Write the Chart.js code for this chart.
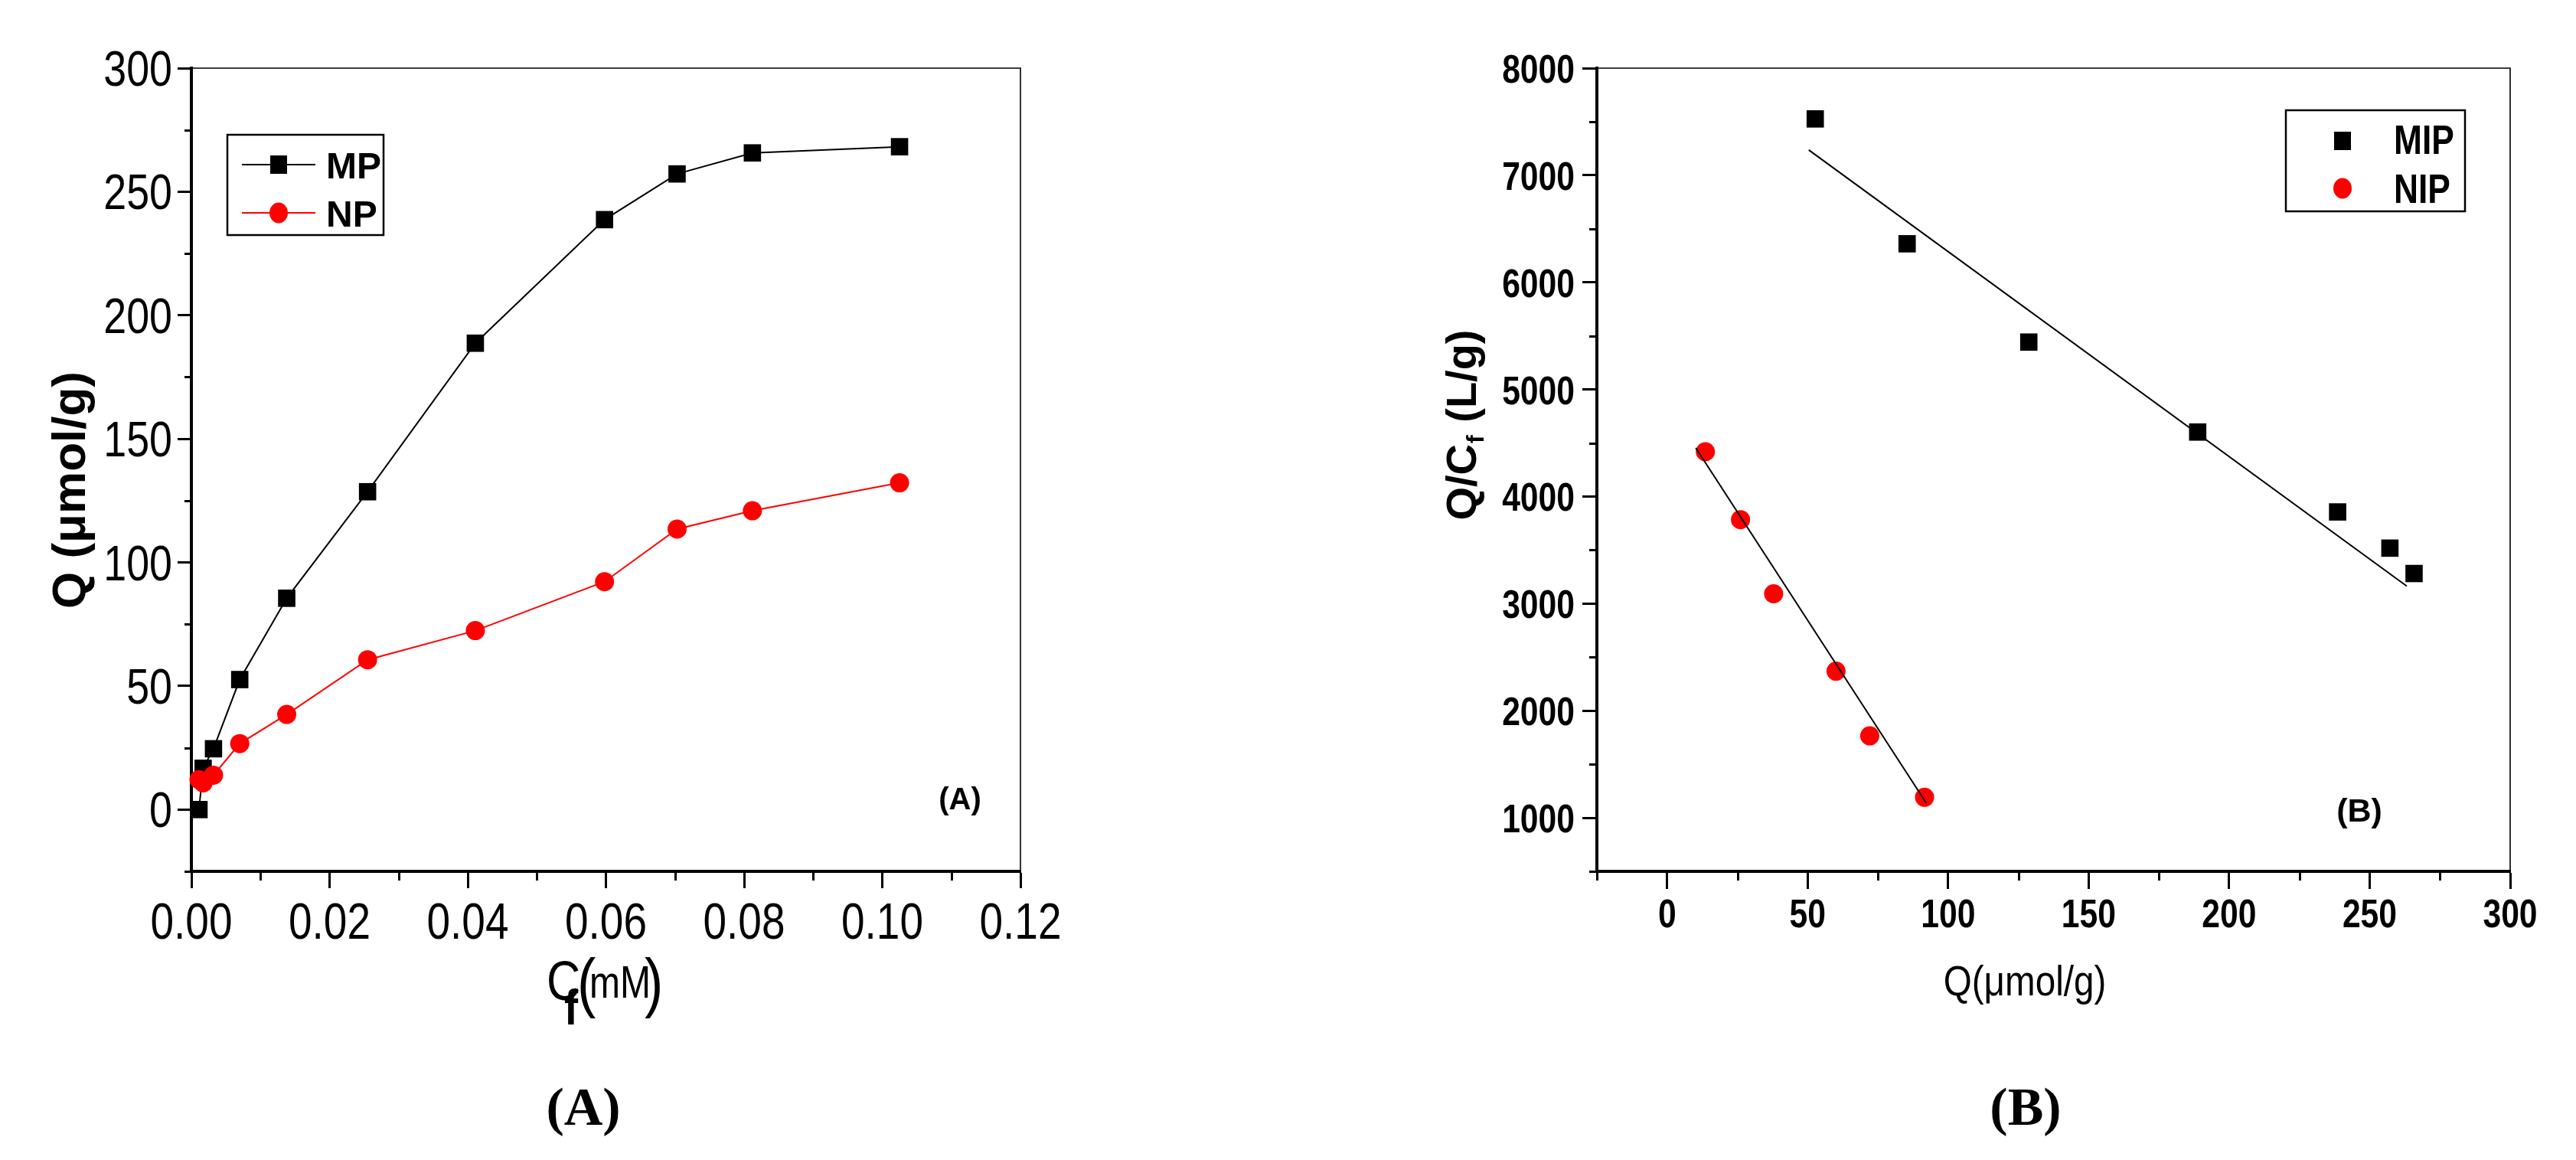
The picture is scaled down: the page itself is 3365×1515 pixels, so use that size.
<!DOCTYPE html>
<html><head><meta charset="utf-8">
<script src="https://cdn.jsdelivr.net/npm/chart.js@4.4.0/dist/chart.umd.min.js"></script>
<style>
html,body{margin:0;padding:0;background:#fff;}
body{width:3365px;height:1515px;position:relative;overflow:hidden;}
canvas{position:absolute;top:0;}
.cap{position:absolute;font-family:'Liberation Serif','Times New Roman',serif;font-weight:bold;font-size:70px;line-height:1;color:#000;transform:translateX(-50%);top:1411px;white-space:nowrap;}
</style></head><body>
<canvas id="cA" width="1600" height="1400" style="left:0;width:1600px;height:1400px"></canvas>
<canvas id="cB" width="1665" height="1400" style="left:1700px;width:1665px;height:1400px"></canvas>
<div class="cap" style="left:762px">(A)</div>
<div class="cap" style="left:2646px">(B)</div>
<script>
// ---------- Data: panel A (adsorption isotherm) ----------
const cfA = [0.0011, 0.0017, 0.0032, 0.0070, 0.0138, 0.0255, 0.0411, 0.0598, 0.0703, 0.0812, 0.1025];
const qMP = [0, 16.7, 24.6, 52.6, 85.5, 128.6, 188.7, 238.7, 257.2, 265.7, 268.2];
const qNP = [12.1, 10.8, 13.9, 26.7, 38.5, 60.6, 72.4, 92.2, 113.5, 120.9, 132.2];
const xTickValuesA = [0, 0.02, 0.04, 0.06, 0.08, 0.10, 0.12];
const xTickLabelsA = ['0.00', '0.02', '0.04', '0.06', '0.08', '0.10', '0.12'];
const yTickValuesA = [0, 50, 100, 150, 200, 250, 300];
const yTickLabelsA = ['0', '50', '100', '150', '200', '250', '300'];

// ---------- Data: panel B (Scatchard plot) ----------
const qMIP = [52.7, 85.4, 128.7, 188.8, 238.6, 257.2, 265.8];
const ratioMIP = [7526, 6360, 5442, 4602, 3856, 3518, 3281];
const qNIP = [13.6, 26.1, 37.9, 60.1, 72.1, 91.6];
const ratioNIP = [4418, 3784, 3092, 2369, 1765, 1191];
const fitMIPx = [50.4, 263.2];
const fitMIPy = [7236, 3163];
const fitNIPx = [10.2, 92.2];
const fitNIPy = [4454, 1138];
const xTickValuesB = [0, 50, 100, 150, 200, 250, 300];
const xTickLabelsB = ['0', '50', '100', '150', '200', '250', '300'];
const yTickValuesB = [1000, 2000, 3000, 4000, 5000, 6000, 7000, 8000];
const yTickLabelsB = ['1000', '2000', '3000', '4000', '5000', '6000', '7000', '8000'];

const SANS = "'Liberation Sans',Arial,sans-serif";
const NARROW_SX = 0.82; // horizontal compression emulating Arial Narrow

function pts(xs, ys) { return xs.map((x, i) => ({ x: x, y: ys[i] })); }
function minorOf(majors, min, max) {
  const step = majors[1] - majors[0];
  const out = [];
  const cand = [majors[0] - step / 2].concat(majors.map(v => v + step / 2));
  cand.forEach(v => { if (v >= min - 1e-9 && v <= max + 1e-9) out.push(v); });
  return out;
}
function textSX(ctx, text, x, y, font, align, sx) {
  ctx.save();
  ctx.translate(x, y);
  ctx.scale(sx, 1);
  ctx.font = font;
  ctx.textAlign = align;
  ctx.textBaseline = 'alphabetic';
  ctx.fillStyle = '#000';
  ctx.fillText(text, 0, 0);
  ctx.restore();
}

function frameMinorLabels(chart, o) {
  const ctx = chart.ctx, a = chart.chartArea;
  const xs = chart.scales.x, ys = chart.scales.y;
  ctx.save();
  ctx.strokeStyle = '#000';
  ctx.lineWidth = 1.6;
  ctx.beginPath();
  ctx.moveTo(a.left, a.top); ctx.lineTo(a.right, a.top); ctx.lineTo(a.right, a.bottom + 1);
  ctx.stroke();
  ctx.lineWidth = 3;
  ctx.beginPath();
  minorOf(o.xMaj, xs.min, xs.max).forEach(v => {
    const p = Math.round(xs.getPixelForValue(v)) + 0.5;
    ctx.moveTo(p, a.bottom); ctx.lineTo(p, a.bottom + o.xMinLen);
  });
  minorOf(o.yMaj, ys.min, ys.max).forEach(v => {
    const p = Math.round(ys.getPixelForValue(v)) + 0.5;
    ctx.moveTo(a.left - o.yMinLen, p); ctx.lineTo(a.left, p);
  });
  ctx.stroke();
  ctx.restore();
  // tick labels placed from the scales' own ticks
  xs.ticks.forEach(t => {
    const i = o.xMaj.findIndex(v => Math.abs(v - t.value) < 1e-9);
    if (i < 0) return;
    textSX(ctx, o.xLab[i], xs.getPixelForValue(t.value), o.xBase, o.xFont, 'center', o.xSX);
  });
  ys.ticks.forEach(t => {
    const i = o.yMaj.findIndex(v => Math.abs(v - t.value) < 1e-9);
    if (i < 0) return;
    textSX(ctx, o.yLab[i], o.yRight, ys.getPixelForValue(t.value) + o.yShift, o.yFont, 'right', o.ySX);
  });
}

function drawLegend(ctx, L) {
  ctx.save();
  ctx.strokeStyle = '#000';
  ctx.lineWidth = 2.5;
  ctx.strokeRect(L.box[0], L.box[1], L.box[2] - L.box[0], L.box[3] - L.box[1]);
  L.items.forEach(it => {
    if (it.line) {
      ctx.strokeStyle = it.color; ctx.lineWidth = 2;
      ctx.beginPath(); ctx.moveTo(L.lineX[0], it.y); ctx.lineTo(L.lineX[1], it.y); ctx.stroke();
    }
    ctx.fillStyle = it.color;
    if (it.shape === 'rect') {
      ctx.fillRect(L.mx - 11, it.y - 12, 22, 24);
    } else {
      ctx.beginPath(); ctx.ellipse(L.mx, it.y, 12, 13.5, 0, 0, Math.PI * 2); ctx.fill();
    }
    textSX(ctx, it.label, L.tx, it.base, L.font, 'left', L.sx);
  });
  ctx.restore();
}

// ---------- Chart A ----------
const decorA = {
  id: 'decorA',
  afterDraw(chart) {
    const ctx = chart.ctx;
    frameMinorLabels(chart, {
      xMaj: xTickValuesA, yMaj: yTickValuesA, xLab: xTickLabelsA, yLab: yTickLabelsA,
      xMinLen: 12, yMinLen: 9,
      xFont: '67px ' + SANS, xBase: 1226, xSX: NARROW_SX,
      yFont: '64px ' + SANS, yRight: 225, yShift: 23, ySX: 0.84
    });
    drawLegend(ctx, {
      box: [297, 176, 501, 307], lineX: [316, 412], mx: 364, tx: 426, sx: 1,
      font: 'bold 48px ' + SANS,
      items: [
        { label: 'MP', shape: 'rect', color: '#000', y: 215, base: 233, line: true },
        { label: 'NP', shape: 'circle', color: '#ff0000', y: 278, base: 296, line: true }
      ]
    });
    ctx.save();
    ctx.fillStyle = '#000';
    ctx.font = 'bold 40px ' + SANS;
    ctx.textAlign = 'center'; ctx.textBaseline = 'middle';
    ctx.fillText('(A)', 1254, 1046);
    // y title
    ctx.save();
    ctx.translate(111, 640);
    ctx.rotate(-Math.PI / 2);
    ctx.font = 'bold 62px ' + SANS;
    ctx.textAlign = 'center'; ctx.textBaseline = 'alphabetic';
    ctx.fillText('Q (\u03bcmol/g)', 0, 0);
    ctx.restore();
    ctx.restore();
    // x title  C_f(mM)
    textSX(ctx, 'C', 714, 1306, '72px ' + SANS, 'left', 0.85);
    textSX(ctx, 'f', 737, 1338, 'bold 64px ' + SANS, 'left', 0.85);
    textSX(ctx, '(', 754, 1312, '86px ' + SANS, 'left', 0.85);
    textSX(ctx, 'mM', 770, 1303, '60px ' + SANS, 'left', 0.8);
    textSX(ctx, ')', 842, 1312, '86px ' + SANS, 'left', 0.85);
  }
};

new Chart(document.getElementById('cA'), {
  type: 'scatter',
  data: {
    datasets: [
      { label: 'MP', data: pts(cfA, qMP), showLine: true, borderColor: '#000', backgroundColor: '#000',
        borderWidth: 2, pointStyle: 'rect', pointRadius: 16, pointBorderWidth: 0, pointHoverRadius: 16, clip: false, order: 1 },
      { label: 'NP', data: pts(cfA, qNP), showLine: true, borderColor: '#ff0000', backgroundColor: '#ff0000',
        borderWidth: 2, pointStyle: 'circle', pointRadius: 12.5, pointBorderWidth: 0, pointHoverRadius: 12.5, clip: false, order: 0 }
    ]
  },
  options: {
    responsive: false, animation: false, devicePixelRatio: 1,
    layout: { padding: { left: 0, top: 89, right: 267, bottom: 162 } },
    plugins: { legend: { display: false }, tooltip: { enabled: false } },
    scales: {
      x: {
        type: 'linear', min: 0, max: 0.12,
        afterBuildTicks: s => { s.ticks = xTickValuesA.map(v => ({ value: v })); },
        afterFit: s => { s.height = 100; s.paddingLeft = 0; s.paddingRight = 0; },
        border: { display: true, color: '#000', width: 4 },
        grid: { drawOnChartArea: false, drawTicks: true, tickLength: 22, tickWidth: 3, tickColor: '#000' },
        ticks: { display: false }
      },
      y: {
        type: 'linear', min: -25, max: 300,
        afterBuildTicks: s => { s.ticks = yTickValuesA.map(v => ({ value: v })); },
        afterFit: s => { s.width = 250; s.paddingTop = 0; s.paddingBottom = 0; },
        border: { display: true, color: '#000', width: 4 },
        grid: { drawOnChartArea: false, drawTicks: true, tickLength: 18, tickWidth: 3, tickColor: '#000' },
        ticks: { display: false }
      }
    }
  },
  plugins: [decorA]
});

// ---------- Chart B ----------
const decorB = {
  id: 'decorB',
  afterDraw(chart) {
    const ctx = chart.ctx;
    frameMinorLabels(chart, {
      xMaj: xTickValuesB, yMaj: yTickValuesB, xLab: xTickLabelsB, yLab: yTickLabelsB,
      xMinLen: 12, yMinLen: 10,
      xFont: 'bold 52px ' + SANS, xBase: 1211, xSX: NARROW_SX,
      yFont: 'bold 52px ' + SANS, yRight: 357, yShift: 19, ySX: NARROW_SX
    });
    drawLegend(ctx, {
      box: [1286, 144, 1520, 276], lineX: null, mx: 1360, tx: 1427, sx: 0.82,
      font: 'bold 54px ' + SANS,
      items: [
        { label: 'MIP', shape: 'rect', color: '#000', y: 184, base: 201, line: false },
        { label: 'NIP', shape: 'circle', color: '#ff0000', y: 246, base: 265, line: false }
      ]
    });
    ctx.save();
    ctx.fillStyle = '#000';
    ctx.font = 'bold 43px ' + SANS;
    ctx.textAlign = 'center'; ctx.textBaseline = 'middle';
    ctx.fillText('(B)', 1382, 1061);
    ctx.restore();
    // x title
    textSX(ctx, 'Q(\u03bcmol/g)', 945, 1300, '56px ' + SANS, 'center', 0.85);
    // y title  Q/C_f (L/g)
    ctx.save();
    ctx.translate(228, 556);
    ctx.rotate(-Math.PI / 2);
    const big = 'bold 56px ' + SANS, small = 'bold 32px ' + SANS;
    ctx.font = big; const w1 = ctx.measureText('Q/C').width;
    ctx.font = small; const w2 = ctx.measureText('f').width;
    ctx.font = big; const w3 = ctx.measureText(' (L/g)').width;
    const x0 = -(w1 + w2 + w3) / 2;
    ctx.fillStyle = '#000';
    ctx.textAlign = 'left'; ctx.textBaseline = 'alphabetic';
    ctx.font = big; ctx.fillText('Q/C', x0, 0);
    ctx.font = small; ctx.fillText('f', x0 + w1 + 1, 10);
    ctx.font = big; ctx.fillText(' (L/g)', x0 + w1 + w2 + 2, 0);
    ctx.restore();
  }
};

new Chart(document.getElementById('cB'), {
  type: 'scatter',
  data: {
    datasets: [
      { label: 'MIP', data: pts(qMIP, ratioMIP), showLine: false, backgroundColor: '#000', borderColor: '#000',
        pointStyle: 'rect', pointRadius: 16, pointBorderWidth: 0, pointHoverRadius: 16, clip: false, order: 2 },
      { label: 'NIP', data: pts(qNIP, ratioNIP), showLine: false, backgroundColor: '#ff0000', borderColor: '#ff0000',
        pointStyle: 'circle', pointRadius: 12.5, pointBorderWidth: 0, pointHoverRadius: 12.5, clip: false, order: 2 },
      { label: 'MIP fit', data: pts(fitMIPx, fitMIPy), showLine: true, borderColor: '#000', borderWidth: 2,
        pointRadius: 0, pointHoverRadius: 0, clip: false, order: 0 },
      { label: 'NIP fit', data: pts(fitNIPx, fitNIPy), showLine: true, borderColor: '#000', borderWidth: 2,
        pointRadius: 0, pointHoverRadius: 0, clip: false, order: 0 }
    ]
  },
  options: {
    responsive: false, animation: false, devicePixelRatio: 1,
    layout: { padding: { left: 0, top: 89, right: 86, bottom: 162 } },
    plugins: { legend: { display: false }, tooltip: { enabled: false } },
    scales: {
      x: {
        type: 'linear', min: -25, max: 300,
        afterBuildTicks: s => { s.ticks = xTickValuesB.map(v => ({ value: v })); },
        afterFit: s => { s.height = 100; s.paddingLeft = 0; s.paddingRight = 0; },
        border: { display: true, color: '#000', width: 4 },
        grid: { drawOnChartArea: false, drawTicks: true, tickLength: 23, tickWidth: 3, tickColor: '#000' },
        ticks: { display: false }
      },
      y: {
        type: 'linear', min: 500, max: 8000,
        afterBuildTicks: s => { s.ticks = yTickValuesB.map(v => ({ value: v })); },
        afterFit: s => { s.width = 386; s.paddingTop = 0; s.paddingBottom = 0; },
        border: { display: true, color: '#000', width: 4 },
        grid: { drawOnChartArea: false, drawTicks: true, tickLength: 19, tickWidth: 3, tickColor: '#000' },
        ticks: { display: false }
      }
    }
  },
  plugins: [decorB]
});
</script>
</body></html>
